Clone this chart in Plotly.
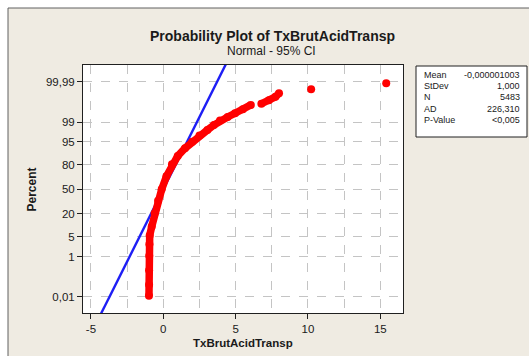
import plotly.graph_objects as go
from statistics import NormalDist

# ---- data ----
# main band of data (x value, cumulative percent)
seg1_x = [-0.99, -0.98, -0.98, -0.97, -0.96, -0.94, -0.80, -0.60, -0.36, -0.11,
          0.22, 0.60, 1.00, 1.50, 2.00, 2.50, 3.05, 3.50, 3.92, 4.45, 4.96, 5.50, 6.05]
seg1_pct = [0.0117, 0.0483, 0.256, 1.072, 2.87, 5.48, 9.85, 20.3, 34.5, 50.0,
            67.4, 80.6, 87.5, 92.2, 95.0, 96.86, 97.98, 98.68, 99.13, 99.38, 99.573, 99.72, 99.825]
seg2_x = [6.78, 7.30, 7.75, 8.00]
seg2_pct = [99.846, 99.897, 99.931, 99.955]
iso_x = [10.22, 15.41]
iso_pct = [99.973, 99.988]

# fitted normal
mean_val = -0.000001003
sd_val = 1.000
fit_x = [-6.0, 6.0]

y_tick_pct = [0.01, 1, 5, 20, 50, 80, 95, 99, 99.99]
y_tick_text = ["0,01", "1", "5", "20", "50", "80", "95", "99", "99,99"]
x_tick_vals = [-5, 0, 5, 10, 15]

stats_labels = ["Mean", "StDev", "N", "AD", "P-Value"]
stats_values = ["-0,000001003", "1,000", "5483", "226,310", "<0,005"]

title = "Probability Plot of TxBrutAcidTransp"
subtitle = "Normal - 95% CI"
x_title = "TxBrutAcidTransp"
y_title = "Percent"

# ---- helpers ----
nd = NormalDist()
def z(p):
    return nd.inv_cdf(p / 100.0)

RED = "#FF0000"
BLUE = "#1E1EF5"
BEIGE = "#EFEBE2"
FONT = "Liberation Sans"

fig = go.Figure()

# fitted line
fit_z = [(x - mean_val) / sd_val for x in fit_x]
fig.add_trace(go.Scatter(x=fit_x, y=fit_z, mode="lines",
                         line=dict(color=BLUE, width=2.4), hoverinfo="skip"))

# data band
bx = seg1_x + [None] + seg2_x
by = [z(p) for p in seg1_pct] + [None] + [z(p) for p in seg2_pct]
fig.add_trace(go.Scatter(x=bx, y=by, mode="lines+markers",
                         line=dict(color=RED, width=7.5),
                         marker=dict(color=RED, size=8),
                         connectgaps=False, hoverinfo="skip"))
fig.add_trace(go.Scatter(x=iso_x, y=[z(p) for p in iso_pct], mode="markers",
                         marker=dict(color=RED, size=8), hoverinfo="skip"))

# ---- layout ----
L, R, T, B = 83, 126, 65, 43
PW, PH = 529 - L - R, 356 - T - B

def px_x(px):
    return (px - L) / PW

def px_y(py):
    return (356 - B - py) / PH

grid = dict(gridcolor="#C4C4C4", griddash="dash", gridwidth=1)

fig.update_layout(
    width=529, height=356,
    margin=dict(l=L, r=R, t=T, b=B),
    paper_bgcolor=BEIGE, plot_bgcolor="white",
    showlegend=False,
    font=dict(family=FONT, size=11.5, color="#1A1A1A"),
    xaxis=dict(range=[-5.55, 16.57], tickvals=x_tick_vals,
               ticktext=[str(v) for v in x_tick_vals],
               showline=True, linecolor="#202020", linewidth=1, mirror=True,
               ticks="outside", ticklen=5, tickcolor="#202020",
               zeroline=False, showgrid=True,
               minor=dict(dtick=2.5, tick0=0, showgrid=True, gridcolor="#C4C4C4",
                          griddash="dash", ticks=""),
               **grid),
    yaxis=dict(range=[-4.28, 4.30], tickvals=[z(p) for p in y_tick_pct],
               ticktext=y_tick_text,
               showline=True, linecolor="#202020", linewidth=1, mirror=True,
               ticks="outside", ticklen=5, tickcolor="#202020",
               zeroline=False, showgrid=True, **grid),
)

shapes = []
# white strips outside the outer frame
shapes.append(dict(type="rect", xref="paper", yref="paper", layer="below",
                   x0=px_x(-5), x1=px_x(8), y0=px_y(400), y1=px_y(-5),
                   fillcolor="white", line=dict(width=0)))
shapes.append(dict(type="rect", xref="paper", yref="paper", layer="below",
                   x0=px_x(-5), x1=px_x(540), y0=px_y(8), y1=px_y(-5),
                   fillcolor="white", line=dict(width=0)))
shapes.append(dict(type="line", xref="paper", yref="paper",
                   x0=px_x(8), x1=px_x(8), y0=px_y(400), y1=px_y(8),
                   line=dict(color="#606060", width=1)))
shapes.append(dict(type="line", xref="paper", yref="paper",
                   x0=px_x(8), x1=px_x(540), y0=px_y(8), y1=px_y(8),
                   line=dict(color="#606060", width=1)))
# stats box
shapes.append(dict(type="rect", xref="paper", yref="paper",
                   x0=px_x(416), x1=px_x(527), y0=px_y(137), y1=px_y(66),
                   fillcolor="white", line=dict(color="#202020", width=1)))
fig.update_layout(shapes=shapes)

ann = []
ann.append(dict(text="<b>" + title + "</b>", x=px_x(272), y=px_y(35.5),
                xref="paper", yref="paper", showarrow=False,
                xanchor="center", yanchor="middle",
                font=dict(family=FONT, size=14, color="#1A1A1A")))
ann.append(dict(text=subtitle, x=px_x(271), y=px_y(50.5),
                xref="paper", yref="paper", showarrow=False,
                xanchor="center", yanchor="middle",
                font=dict(family=FONT, size=12, color="#1A1A1A")))
ann.append(dict(text="<b>" + x_title + "</b>", x=px_x(243), y=px_y(342.5),
                xref="paper", yref="paper", showarrow=False,
                xanchor="center", yanchor="middle",
                font=dict(family=FONT, size=11.5, color="#1A1A1A")))
ann.append(dict(text="<b>" + y_title + "</b>", x=px_x(31.5), y=px_y(190),
                xref="paper", yref="paper", showarrow=False, textangle=-90,
                xanchor="center", yanchor="middle",
                font=dict(family=FONT, size=12, color="#1A1A1A")))
row_y = [75, 86, 97.2, 108.5, 120]
for lab, val, ry in zip(stats_labels, stats_values, row_y):
    ann.append(dict(text=lab, x=px_x(421.5), y=px_y(ry), xref="paper", yref="paper",
                    showarrow=False, xanchor="left", yanchor="middle",
                    font=dict(family=FONT, size=9, color="#1A1A1A")))
    ann.append(dict(text=val, x=px_x(521.5), y=px_y(ry), xref="paper", yref="paper",
                    showarrow=False, xanchor="right", yanchor="middle",
                    font=dict(family=FONT, size=9, color="#1A1A1A")))
fig.update_layout(annotations=ann)

fig.write_html("out.html")
